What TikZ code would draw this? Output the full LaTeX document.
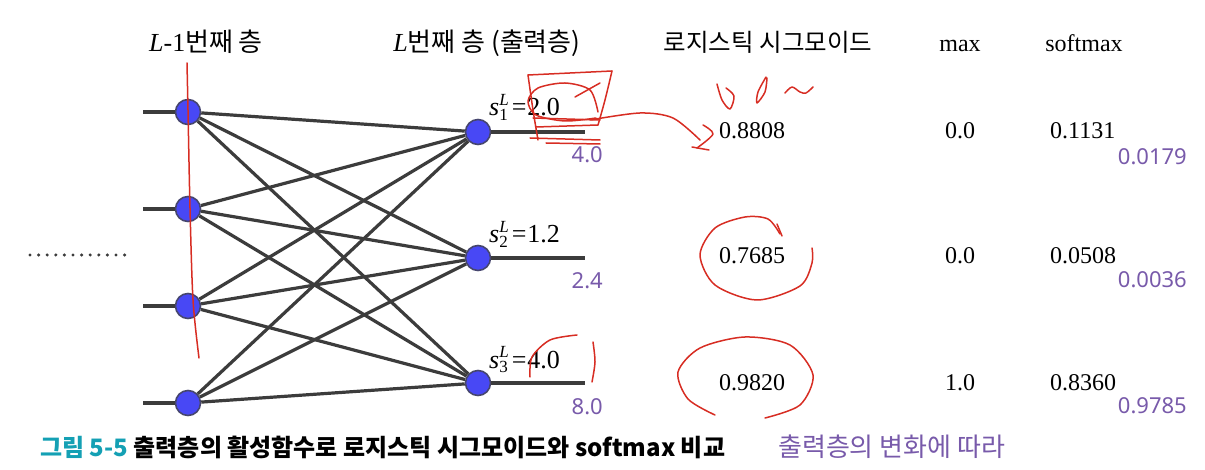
\documentclass[tikz,border=0pt]{standalone}
\usepackage{fontspec}
\setmainfont{Liberation Serif}
\newfontfamily\kr{Noto Sans CJK KR}
\newfontfamily\nsans{Noto Sans}
\definecolor{edgec}{RGB}{60,60,60}
\definecolor{nodefill}{RGB}{72,72,245}
\definecolor{nodedraw}{RGB}{70,70,110}
\definecolor{purp}{RGB}{120,90,170}
\definecolor{capteal}{RGB}{20,160,180}
\definecolor{annotc}{RGB}{215,45,35}
\newcommand{\slabel}[2]{\textit{s}\rlap{\raisebox{10pt}{\fontsize{17}{20}\selectfont\textit{L}}}\raisebox{-5pt}{\fontsize{17}{20}\selectfont #1}\kern4pt=\kern1pt#2}
\begin{document}
\begin{tikzpicture}[x=1pt,y=-1pt,
  neuron/.style={circle,minimum size=25pt,inner sep=0pt,fill=nodefill,draw=nodedraw,line width=1.6pt},
  wire/.style={draw=edgec,line width=3.2pt},
  val/.style={font=\fontsize{24}{28}\selectfont,inner sep=0pt,anchor=base},
  pval/.style={font=\nsans\fontsize{22}{26}\selectfont,text=purp,inner sep=0pt,anchor=base east},
  hdr/.style={inner sep=0pt,anchor=base,font=\fontsize{26}{30}\selectfont},
  slab/.style={inner sep=0pt,anchor=base west,font=\fontsize{26}{30}\selectfont},
  annot/.style={draw=annotc,line width=1.5pt,line cap=round,line join=round}]
\useasboundingbox (0,0) rectangle (1205,470);

% layer L-1 neurons
\foreach \i/\y in {1/112,2/209,3/306,4/403}{
  \node[neuron] (a\i) at (188,\y) {};
  \coordinate (in\i) at (143,\y);
}
% output neurons
\foreach \j/\y in {1/132,2/258,3/383}{
  \node[neuron] (o\j) at (478,\y) {};
  \coordinate (out\j) at (585,\y);
}
\foreach \i in {1,...,4}{
  \draw[wire] (in\i) -- (a\i);
  \foreach \j in {1,2,3}{ \draw[wire] (a\i) -- (o\j); }
}
\foreach \j in {1,2,3}{ \draw[wire] (o\j) -- (out\j); }

% dots
\coordinate (d0) at (30,255);
\coordinate (d1) at (126,255);
\draw[edgec,line width=3.4pt,line cap=round,dash pattern=on 0pt off 8.6pt] (d0) -- (d1);

% headers
\node[hdr] (h1) at (206,52) {\textit{L}-1{\kr 번째 층}};
\node[hdr] (h2) at (487,52) {\textit{L}{\kr 번째 층 (출력층)}};
\node[hdr,font=\kr\fontsize{24.5}{28}\selectfont] (h3) at (768,52) {로지스틱 시그모이드};
\node[hdr,font=\fontsize{24}{28}\selectfont] (h4) at (960,52) {max};
\node[hdr,font=\fontsize{24}{28}\selectfont] (h5) at (1084,52) {softmax};

% s labels
\node[slab] (s1) at (489,116) {\slabel{1}{2.0}};
\node[slab] (s2) at (489,243) {\slabel{2}{1.2}};
\node[slab] (s3) at (489,368) {\slabel{3}{4.0}};
\node[pval] (p1) at (603,163) {4.0};
\node[pval] (p2) at (603,289) {2.4};
\node[pval] (p3) at (603,414) {8.0};

% sigmoid
\node[val] (g1) at (752,139) {0.8808};
\node[val] (g2) at (752,264) {0.7685};
\node[val] (g3) at (752,390) {0.9820};
% max
\node[val] (m1) at (960,139) {0.0};
\node[val] (m2) at (960,264) {0.0};
\node[val] (m3) at (960,390) {1.0};
% softmax
\node[val,anchor=base west] (f1) at (1050,139) {0.1131};
\node[val,anchor=base west] (f2) at (1050,264) {0.0508};
\node[val,anchor=base west] (f3) at (1050,390) {0.8360};
\node[pval] (q1) at (1187,165) {0.0179};
\node[pval] (q2) at (1187,288) {0.0036};
\node[pval] (q3) at (1187,413) {0.9785};

% caption
\node[inner sep=0pt,anchor=base west,font=\kr\bfseries\fontsize{24}{28}\selectfont] (cap) at (40,456)
  {{\color{capteal}그림 5-5} 출력층의 활성함수로 로지스틱 시그모이드와 softmax 비교};
\node[inner sep=0pt,anchor=base west,font=\kr\fontsize{26}{30}\selectfont,text=purp] (note) at (778,456)
  {출력층의 변화에 따라};

% red handwritten annotations
\draw[annot] plot[smooth] coordinates {(187,63) (188,110) (190,208) (193,300) (199,358)};
\draw[annot] plot[smooth] coordinates {(528,75) (570,73) (612,71)};
\draw[annot] plot[smooth] coordinates {(528,75) (533,110) (538,140)};
\draw[annot] plot[smooth] coordinates {(612,71) (605,100) (598,125)};
\draw[annot] (598,125) -- (536,127);
\draw[annot] plot[smooth] coordinates {(598,112) (590,90) (565,83) (538,88) (528,101) (536,115) (565,121) (596,118)};
\draw[annot] (575,97) -- (600,83);
\draw[annot] (533,118) -- (600,120);
\draw[annot] (530,138) -- (600,140);
\draw[annot] (546,143) -- (600,144);
\draw[annot] plot[smooth] coordinates {(590,120) (640,113) (673,118) (700,140)};
\draw[annot] plot[smooth] coordinates {(703,125) (713,134) (697,148)};
\draw[annot] (692,147) -- (709,150);
\draw[annot] plot[smooth] coordinates {(717,84) (722,100) (730,109) (734,96) (726,88)};
\draw[annot] plot[smooth] coordinates {(766,77) (758,92) (757,103) (765,92) (767,78)};
\draw[annot] plot[smooth] coordinates {(785,93) (792,87) (800,92) (806,93) (813,87)};
\draw[annot] plot[smooth] coordinates {(780,234) (768,219) (745,217) (715,228) (700,255) (715,285) (757,300) (800,286) (812,263) (812,248)};
\draw[annot] (777,224) -- (782,236);
\draw[annot] plot[smooth] coordinates {(715,415) (688,399) (678,372) (700,348) (745,337) (790,345) (813,375) (800,405) (765,418)};
\draw[annot] plot[smooth] coordinates {(530,377) (532,357) (550,340) (577,335)};
\draw[annot] plot[smooth] coordinates {(593,342) (595,362) (592,382)};
\end{tikzpicture}
\end{document}
